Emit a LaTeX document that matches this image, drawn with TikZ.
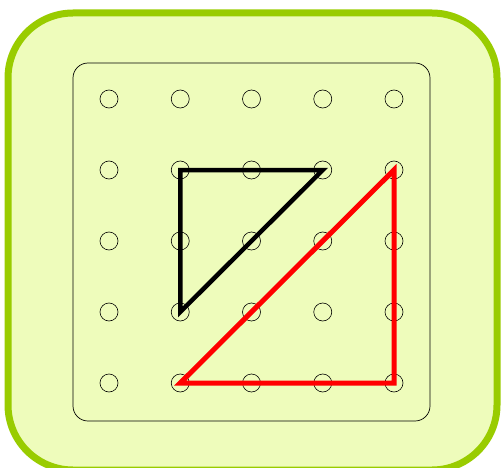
\documentclass[tikz,border=0pt]{standalone}
\usepackage{tikz}
\definecolor{boardgreen}{RGB}{153,204,0}
\definecolor{boardfill}{RGB}{238,252,187}

\begin{document}
\begin{tikzpicture}[
x=1pt, y=-1pt,
board/.style={draw=boardgreen, fill=boardfill, line width=7pt, rounded corners=65pt},
plate/.style={draw, line width=0.7pt, rounded corners=15pt},
pin/.style={circle, draw, line width=0.6pt, minimum size=18pt, inner sep=0pt},
band/.style={line width=4.5pt}
]
\useasboundingbox (0,0) rectangle (503,468);
\begin{scope}
\clip (0,0) rectangle (503,468);
\draw[board] (8,13) rectangle (497,470);
\end{scope}
\draw[plate] (73,63) rectangle (430,421);
\foreach \i in {0,...,4}
  \foreach \j in {0,...,4}
    \node[pin] (p-\i-\j) at ({109+71.25*\i},{99+71*\j}) {};
\draw[band, black] (p-1-1.center) -- (p-3-1.center) -- (p-1-3.center) -- cycle;
\draw[band, red, line width=5pt] (p-4-1.center) -- (p-4-4.center) -- (p-1-4.center) -- cycle;
\end{tikzpicture}
\end{document}
